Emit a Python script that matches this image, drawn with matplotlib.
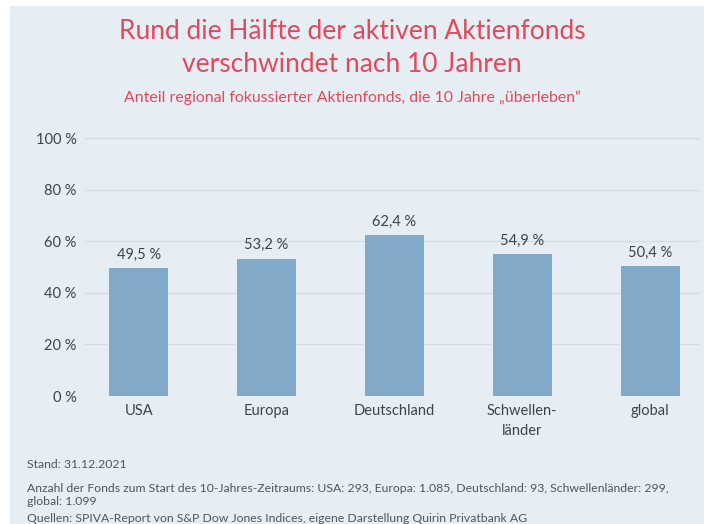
import matplotlib.pyplot as plt
from matplotlib.patches import Rectangle

regions = ["USA", "Europa", "Deutschland", "Schwellen-\nländer", "global"]
shares = [49.5, 53.2, 62.4, 54.9, 50.4]
y_ticks = [0, 20, 40, 60, 80, 100]

title = "Rund die Hälfte der aktiven Aktienfonds\nverschwindet nach 10 Jahren"
subtitle = "Anteil regional fokussierter Aktienfonds, die 10 Jahre \u201eüberleben\u201c"
notes = [
    "Stand: 31.12.2021",
    "Anzahl der Fonds zum Start des 10-Jahres-Zeitraums: USA: 293, Europa: 1.085, Deutschland: 93, Schwellenländer: 299,\nglobal: 1.099",
    "Quellen: SPIVA-Report von S&P Dow Jones Indices, eigene Darstellung Quirin Privatbank AG",
]

plt.rcParams["font.family"] = ["Lato", "DejaVu Sans"]

bg = "#e7eef3"
red = "#e2485e"
text_col = "#3d4448"
note_col = "#50575c"

fig = plt.figure(figsize=(7.04, 5.24), dpi=100)
fig.patch.set_facecolor("white")
fig.patches.append(Rectangle((10 / 704, 0), 1, 1 - 6 / 524, transform=fig.transFigure,
                             facecolor=bg, edgecolor="none", zorder=-10))

ax = fig.add_axes([85 / 704, 128 / 524, 615 / 704, 258 / 524])
ax.set_facecolor("none")
x = range(len(regions))
ax.bar(x, shares, width=0.46, color="#82aac8", zorder=3)
for xi, v in zip(x, shares):
    ax.text(xi, v + 2.5, f"{v:.1f} %".replace(".", ","), ha="center", va="bottom",
            fontsize=10.5, color=text_col)

ax.set_xlim(-0.42, 4.39)
ax.set_ylim(0, 100)
ax.set_yticks(y_ticks)
ax.set_yticklabels([f"{t} %" for t in y_ticks], fontsize=10.5, color=text_col)
ax.set_xticks(list(x))
ax.set_xticklabels(regions, fontsize=10.5, color=text_col, linespacing=1.5, va="top")
ax.tick_params(length=0, pad=6)
ax.grid(axis="y", color="#d6dde2", linewidth=1, zorder=0)
for s in ax.spines.values():
    s.set_visible(False)

fig.text(0.5, 1 - 48 / 524, title, ha="center", va="center", fontsize=19,
         color=red, linespacing=1.4)
fig.text(0.5, 1 - 98 / 524, subtitle, ha="center", va="center", fontsize=11.4, color=red)

fig.text(27 / 704, 1 - 465 / 524, notes[0], ha="left", va="center", fontsize=8.8, color=note_col)
fig.text(27 / 704, 1 - 495 / 524, notes[1], ha="left", va="center", fontsize=8.8, color=note_col,
         linespacing=1.2)
fig.text(27 / 704, 1 - 519 / 524, notes[2], ha="left", va="center", fontsize=8.8, color=note_col)

fig.savefig("out.png", dpi=100)
